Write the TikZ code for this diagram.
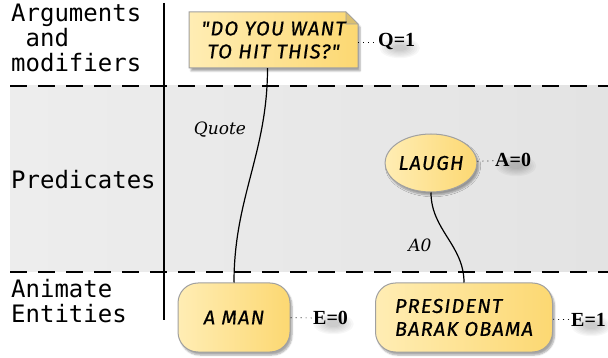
\documentclass[tikz,border=0pt]{standalone}
\usepackage{fontspec}
\setmonofont{DejaVu Sans Mono}
\newfontfamily\comicfont{Fira Sans}[LetterSpace=6, ItalicFeatures={FakeBold=0.7}]
\newfontfamily\tagfont{Liberation Serif}
\newfontfamily\rolefont{DejaVu Serif}
\usetikzlibrary{shapes.geometric,shadows.blur}
\definecolor{cardlight}{HTML}{FFEDB4}
\definecolor{carddark}{HTML}{FCD872}
\definecolor{cardedge}{HTML}{A0A0A0}
\tikzset{
  cardtext/.style={font=\comicfont\itshape\fontsize{20}{23}\selectfont, inner sep=0pt},
  concept/.style={cardtext, draw=cardedge, line width=1pt, left color=cardlight, right color=carddark,
    blur shadow={shadow xshift=2pt, shadow yshift=-3pt, shadow blur steps=6, shadow opacity=35}},
  entity/.style={concept, rectangle, rounded corners=20pt, minimum height=69pt, align=left},
  predicate/.style={concept, ellipse, minimum width=72pt, minimum height=58pt},
  tag/.style={font=\tagfont\bfseries\fontsize{20}{20}\selectfont, inner sep=1pt, anchor=west},
  tagline/.style={line width=0.7pt, dash pattern=on 1pt off 4pt},
  link/.style={line width=1.2pt},
  role/.style={font=\rolefont\itshape\fontsize{17}{17}\selectfont},
  layer/.style={font=\ttfamily\fontsize{24}{25}\selectfont, align=left, anchor=west, inner sep=0pt},
  divider/.style={line width=1.5pt, dash pattern=on 17pt off 11pt}
}

\begin{document}
\begin{tikzpicture}[x=1pt,y=-1pt]

  \newcommand\XL{164}
  \newcommand\YA{86}
  \newcommand\YB{272}

  \useasboundingbox (0,0) rectangle (608,358);

  % predicate band
  \shade[left color=black!7, right color=black!11] (10,\YA) rectangle (608,\YB);
  \draw[divider] (10,\YA) -- (608,\YA);
  \draw[divider] (10,\YB) -- (608,\YB);
  \draw[line width=1.5pt] (\XL,3) -- (\XL,320);

  \node[layer] (args) at (11,38) {Arguments\\\phantom{a}and\\modifiers};
  \node[layer] (preds) at (11,180) {Predicates};
  \node[layer] (ents) at (11,301) {Animate\\Entities};

  % the quote card with its folded corner
  \draw[concept] (189,12) -- (346,12) -- (358,24) -- (358,68) -- (189,68) -- cycle;
  \fill[carddark!85!black!90, draw=cardedge, line width=0.6pt] (346,12) -- (346,24) -- (358,24) -- cycle;
  \node[cardtext, align=center, minimum width=169pt, minimum height=56pt] (quote) at (273.5,40)
    {"DO YOU WANT\\TO HIT THIS?"};

  \node[predicate] (laugh) at (431,163) {LAUGH};
  \node[entity, minimum width=112pt, align=center] (man) at (234,317.5) {A MAN};
  \node[entity, minimum width=177pt] (obama) at (464,317.5) {PRESIDENT\\BARAK OBAMA};

  \node[tag] (q) at (377,42) {Q=1};
  \node[tag] (a) at (494,160) {A=0};
  \node[tag] (e0) at (312,318) {E=0};
  \node[tag] (e1) at (570,320) {E=1};

  % soft smudge under the tags
  \foreach \n in {q,a,e0,e1}
    \foreach \r in {0,...,6}
      \fill[black, opacity=0.03] ([xshift=3pt,yshift=-6pt]\n.center)
        ellipse ({7pt+2.2pt*\r} and {3pt+1.2pt*\r});

  \draw[tagline] (quote.east |- q) -- (q);
  \draw[tagline] (laugh) -- (a);
  \draw[tagline] (man) -- (e0);
  \draw[tagline] (obama) -- (e1);

  \draw[link] ([xshift=-6pt]quote.south) to[out=-90,in=90] (man.north);
  \draw[link] (laugh.south) to[out=-90,in=90] (obama.north);

  \node[role] (quotelab) at (220,130) {Quote};
  \node[role] (a0lab) at (420,245) {A0};

\end{tikzpicture}
\end{document}
